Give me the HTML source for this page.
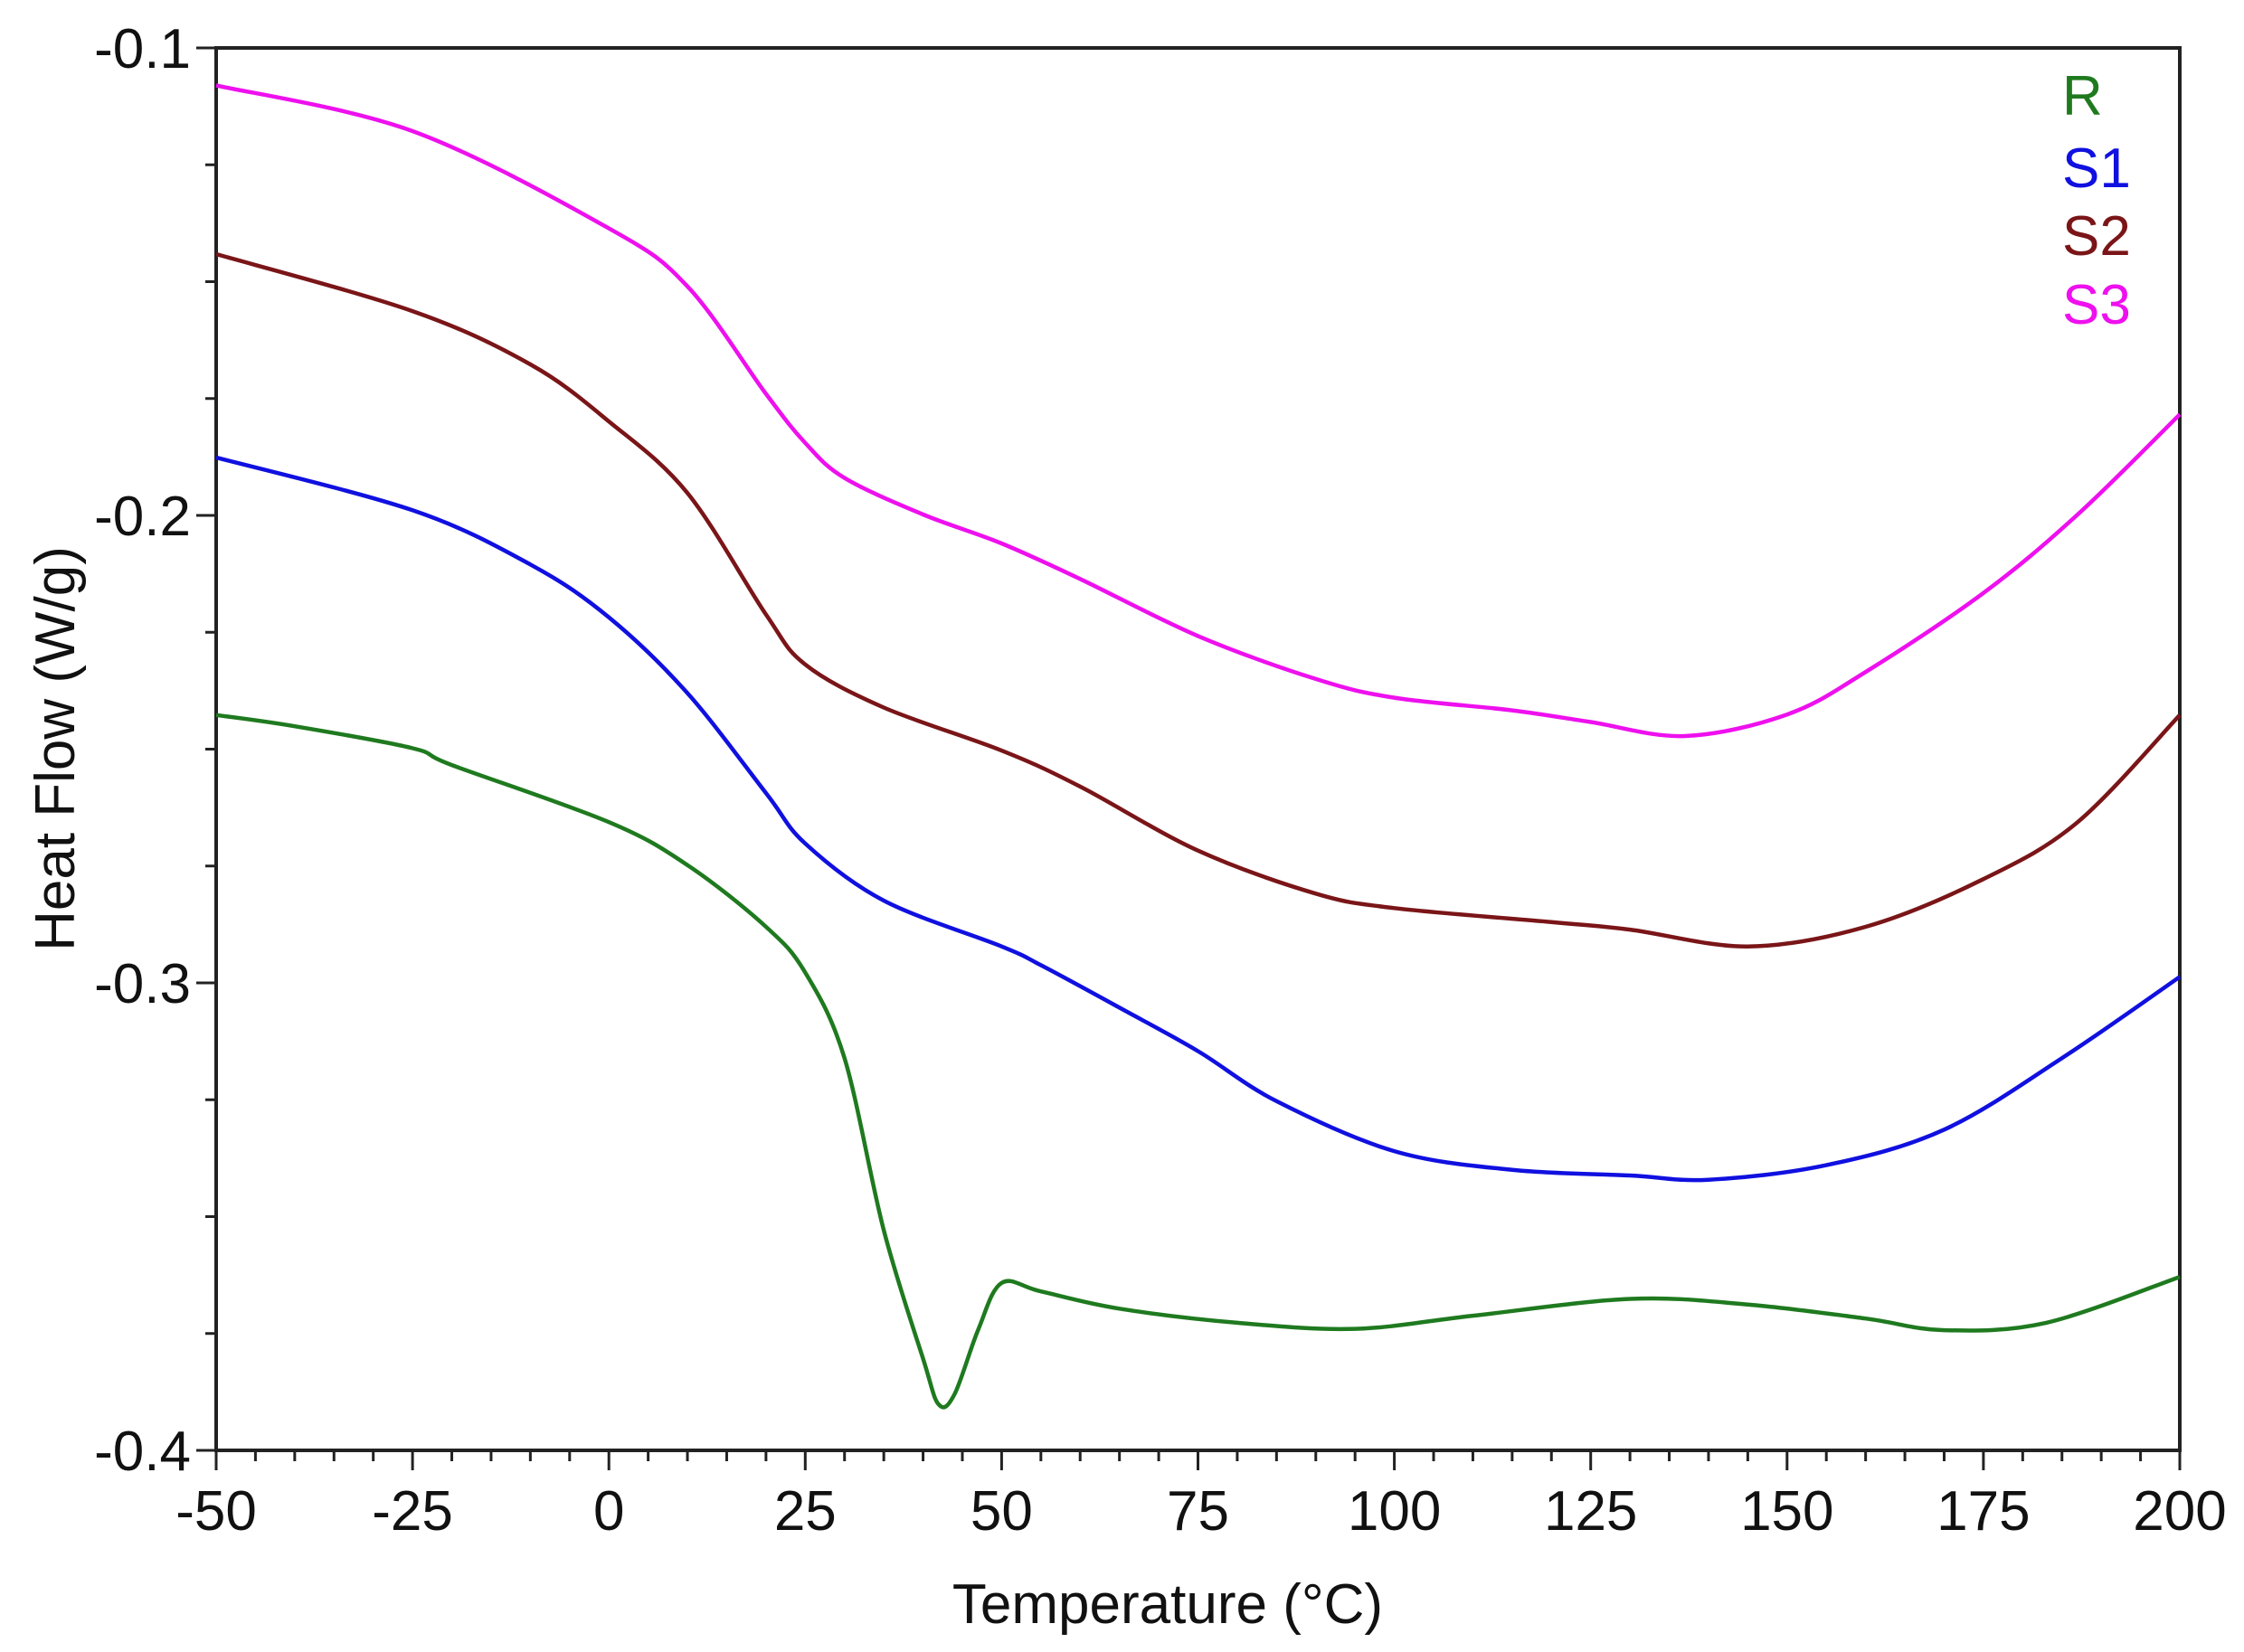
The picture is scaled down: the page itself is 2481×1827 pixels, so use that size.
<!DOCTYPE html>
<html><head><meta charset="utf-8">
<style>
html,body{margin:0;padding:0;background:#fff;}
svg{display:block;font-family:"Liberation Sans",Arial,sans-serif;}
</style></head>
<body>
<svg id="chart" width="2481" height="1827" viewBox="0 0 2481 1827" xmlns="http://www.w3.org/2000/svg">
<rect width="2481" height="1827" fill="#fff"/>
<g id="axes"></g>
<g id="series"></g>
<g id="legend">
<text x="2280" y="127" font-size="62" fill="#1f7a1f">R</text>
<text x="2280" y="207" font-size="62" fill="#1010e0">S1</text>
<text x="2280" y="282" font-size="62" fill="#7a1518">S2</text>
<text x="2280" y="358" font-size="62" fill="#ee10ee">S3</text>
</g>
<text x="1291" y="1795" font-size="62" text-anchor="middle" fill="#111">Temperature (°C)</text>
<text transform="translate(82,828) rotate(-90)" font-size="62" text-anchor="middle" fill="#111">Heat Flow (W/g)</text>
</svg>
<script>
const xTicks = [-50,-25,0,25,50,75,100,125,150,175,200];
const yTicks = [-0.1,-0.2,-0.3,-0.4];
const yTickLabels = ["-0.1","-0.2","-0.3","-0.4"];
const tempR  = [-50,-40,-25,-20,0,10,20,25,30,35,40,42,44,47,50,55,65,80,95,110,130,145,160,170,183,200];
const flowR  = [-0.2427,-0.2451,-0.2498,-0.2534,-0.2656,-0.2748,-0.288,-0.2978,-0.3161,-0.3529,-0.3804,-0.3902,-0.388,-0.3743,-0.3642,-0.366,-0.3697,-0.3727,-0.374,-0.3712,-0.3676,-0.3688,-0.3718,-0.3743,-0.3727,-0.3629];
const tempS1 = [-50,-25,-10,0,10,20,25,35,50,55,65,75,85,100,115,130,140,155,170,185,200];
const flowS1 = [-0.1876,-0.1989,-0.2105,-0.2218,-0.238,-0.2594,-0.2702,-0.2824,-0.2922,-0.2962,-0.3053,-0.3146,-0.3253,-0.336,-0.34,-0.3412,-0.3421,-0.339,-0.3314,-0.3161,-0.2987];
const tempS2 = [-50,-25,-10,0,10,20,25,35,50,60,75,90,100,120,130,145,160,175,187,200];
const flowS2 = [-0.1441,-0.1563,-0.1677,-0.1799,-0.1952,-0.2212,-0.2319,-0.2411,-0.2503,-0.258,-0.2717,-0.2809,-0.284,-0.287,-0.2886,-0.2922,-0.288,-0.2778,-0.2656,-0.2427];
const tempS3 = [-50,-25,0,10,20,25,30,40,50,60,75,90,100,115,125,137,150,160,175,187,200];
const flowS3 = [-0.108,-0.1178,-0.1386,-0.151,-0.174,-0.1845,-0.192,-0.1998,-0.206,-0.2136,-0.2258,-0.235,-0.239,-0.2417,-0.2442,-0.2472,-0.2426,-0.2335,-0.2166,-0.1998,-0.1784];

const L=239,R=2410,T=53,B=1604;
const xMin=-50,xMax=200,yMin=-0.4,yMax=-0.1;
function sx(v){return L+(v-xMin)/(xMax-xMin)*(R-L);}
function sy(v){return B-(v-yMin)/(yMax-yMin)*(B-T);}
const NS="http://www.w3.org/2000/svg";
function mk(tag,attrs,parent){const e=document.createElementNS(NS,tag);for(const k in attrs)e.setAttribute(k,attrs[k]);parent.appendChild(e);return e;}
const axes=document.getElementById('axes');
const frame=mk('rect',{x:L,y:T,width:R-L,height:B-T,fill:'none',stroke:'#222','stroke-width':4},axes);


for(let v=xMin;v<=xMax;v+=5){
  const major=(v%25===0);
  const t=mk('line',{x1:sx(v),x2:sx(v),y1:B,y2:B+(major?22:12),stroke:'#222','stroke-width':3},axes);
  
  
}
xTicks.forEach(v=>{
  const t=mk('text',{x:sx(v),y:B+88,'font-size':62,'text-anchor':'middle',fill:'#111'},axes);
  t.textContent=String(v);
  
  
});
for(let i=0;i<=12;i++){
  const v=yMin+i*0.025;const major=(i%4===0);
  const t=mk('line',{x1:L-(major?22:12),x2:L,y1:sy(v),y2:sy(v),stroke:'#222','stroke-width':3},axes);
  
  
}
yTicks.forEach((v,i)=>{
  const t=mk('text',{x:L-28,y:sy(v)+22,'font-size':62,'text-anchor':'end',fill:'#111'},axes);
  t.textContent=yTickLabels[i];
  
  
});
function smoothPath(xs,ys){
  const p=xs.map((x,i)=>[sx(x),sy(ys[i])]);
  let d='M'+p[0][0].toFixed(1)+','+p[0][1].toFixed(1);
  for(let i=0;i<p.length-1;i++){
    const p0=p[Math.max(0,i-1)],p1=p[i],p2=p[i+1],p3=p[Math.min(p.length-1,i+2)];
    const c1=[p1[0]+(p2[0]-p0[0])/6,p1[1]+(p2[1]-p0[1])/6];
    const c2=[p2[0]-(p3[0]-p1[0])/6,p2[1]-(p3[1]-p1[1])/6];
    d+=' C'+c1.map(n=>n.toFixed(1)).join(',')+' '+c2.map(n=>n.toFixed(1)).join(',')+' '+p2.map(n=>n.toFixed(1)).join(',');
  }
  return d;
}
const series=document.getElementById('series');
function addLine(xs,ys,color,name){
  const e=mk('path',{d:smoothPath(xs,ys),fill:'none',stroke:color,'stroke-width':4.5,'stroke-linejoin':'round'},series);
  
  
}
addLine(tempR,flowR,'#1f7a1f','series-r-line');
addLine(tempS1,flowS1,'#1010e0','series-s1-line');
addLine(tempS2,flowS2,'#7a1518','series-s2-line');
addLine(tempS3,flowS3,'#ee10ee','series-s3-line');
</script>
</body></html>
